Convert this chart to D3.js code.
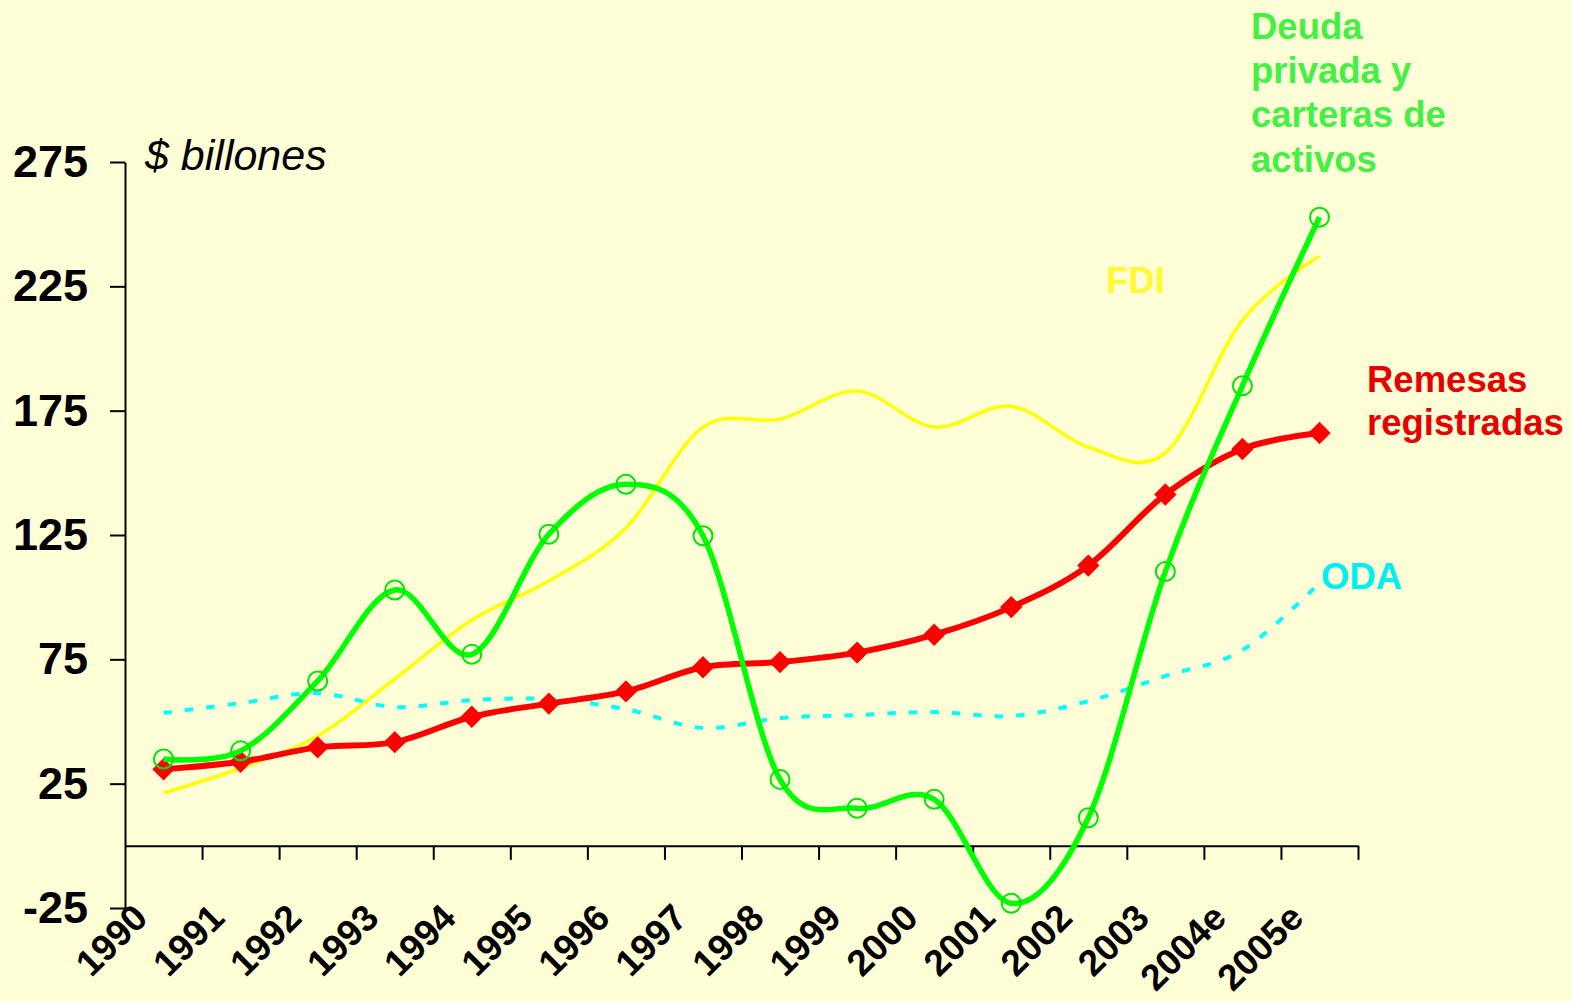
<!DOCTYPE html>
<html>
<head>
<meta charset="utf-8">
<script src="https://cdn.jsdelivr.net/npm/d3@7"></script>
<style>
html, body { margin: 0; padding: 0; background: #FFFFD7; }
svg { display: block; font-family: "Liberation Sans", Arial, sans-serif; }
</style>
</head>
<body>
<div id="chart"></div>
<script>
// categorias (anos) y series, en $ billones
var years = ["1990", "1991", "1992", "1993", "1994", "1995", "1996", "1997",
	"1998", "1999", "2000", "2001", "2002", "2003", "2004e", "2005e"];
var deuda = [34.9, 38.2, 66.3, 102.9, 77, 125.3, 145.4, 124.7, 26.7, 15.1, 18.7, -23.1, 11.3, 110.3, 185, 252.8];
var fdi = [21.2, 31.3, 44.2, 67.1, 90.8, 106.5, 127.8, 168.4, 171.6, 182.9, 168.4, 176.8, 160.4, 158, 211.4, 237.2];
var remesas = [30.8, 33.8, 39.6, 41.7, 51.9, 57.2, 62.1, 71.8, 73.9, 77.7, 84.9, 96, 112.7, 141.3, 159.6, 166];
var oda = [53.4, 57.4, 61.4, 55.8, 58.6, 59, 55, 47.4, 51.4, 52.6, 53.8, 52.2, 58.2, 68.3, 78.7, 105.7];
var yTicks = [-25, 25, 75, 125, 175, 225, 275];

var width = 1572, height = 1001;
var svg = d3.select("#chart")
	.append("svg")
	.attr("width", width)
	.attr("height", height);

var x = d3.scaleBand()
	.domain(years)
	.range([125, 1358])
	.padding(0);
var xEdge = d3.scaleLinear()
	.domain([0, years.length])
	.range([125, 1358]);
var y = d3.scaleLinear()
	.domain([-25, 275])
	.range([908, 162]);
var cx = function(i) { return x(years[i]) + x.bandwidth() / 2; };

// eje y
var yAxis = svg.append("g")
	.attr("transform", "translate(125,0)")
	.call(d3.axisLeft(y)
		.tickValues(yTicks)
		.tickFormat(function(d) { return String(d); })
		.tickSize(15)
		.tickSizeOuter(0)
		.tickPadding(22));
yAxis.selectAll("path, line").attr("stroke", "#000").attr("stroke-width", 2);
yAxis.selectAll("text")
	.attr("fill", "#000")
	.style("font-size", "45px")
	.style("font-weight", "bold")
	.style("font-family", "'Liberation Sans', Arial, sans-serif");

// eje x en cero, ticks entre categorias
var xAxis = svg.append("g")
	.attr("transform", "translate(0," + y(0) + ")")
	.call(d3.axisBottom(xEdge)
		.tickValues(d3.range(1, years.length + 1))
		.tickFormat("")
		.tickSize(14)
		.tickSizeOuter(0));
xAxis.selectAll("path, line").attr("stroke", "#000").attr("stroke-width", 2);

svg.append("g")
	.selectAll("text")
	.data(years)
	.enter()
	.append("text")
	.attr("transform", function(d) {
		return "translate(" + (x(d) + x.bandwidth() / 2 - 14) + ",920) rotate(-45)";
	})
	.attr("text-anchor", "end")
	.style("font-size", "37px")
	.style("font-weight", "bold")
	.attr("fill", "#000")
	.text(function(d) { return d; });

svg.append("text")
	.attr("x", 145)
	.attr("y", 170)
	.style("font-size", "43px")
	.style("font-style", "italic")
	.attr("fill", "#000")
	.text("$ billones");

// lineas
var line = d3.line()
	.x(function(d, i) { return cx(i); })
	.y(function(d) { return y(d); })
	.curve(d3.curveCardinal.tension(0));

svg.append("path")
	.datum(oda)
	.attr("d", line)
	.attr("fill", "none")
	.attr("stroke", "#00FFFF")
	.attr("stroke-width", 4)
	.attr("stroke-dasharray", "8.5,13");

svg.append("path")
	.datum(fdi)
	.attr("d", line)
	.attr("fill", "none")
	.attr("stroke", "#FFFF00")
	.attr("stroke-width", 3.5);

svg.append("path")
	.datum(remesas)
	.attr("d", line)
	.attr("fill", "none")
	.attr("stroke", "#FF0000")
	.attr("stroke-width", 6);

svg.append("g")
	.selectAll("path")
	.data(remesas)
	.enter()
	.append("path")
	.attr("d", d3.symbol().type(d3.symbolSquare).size(250))
	.attr("transform", function(d, i) { return "translate(" + cx(i) + "," + y(d) + ") rotate(45)"; })
	.attr("fill", "#FF0000");

svg.append("path")
	.datum(deuda)
	.attr("d", line)
	.attr("fill", "none")
	.attr("stroke", "#00FF00")
	.attr("stroke-width", 5.5);

svg.append("g")
	.selectAll("circle")
	.data(deuda)
	.enter()
	.append("circle")
	.attr("cx", function(d, i) { return cx(i); })
	.attr("cy", function(d) { return y(d); })
	.attr("r", 9.5)
	.attr("fill", "none")
	.attr("stroke", "#00E600")
	.attr("stroke-width", 2);

// etiquetas de series
var labels = svg.append("g")
	.style("font-size", "36.5px")
	.style("font-weight", "bold");

var deudaLbl = labels.append("text").attr("fill", "#44F044");
["Deuda", "privada y", "carteras de", "activos"].forEach(function(t, i) {
	deudaLbl.append("tspan").attr("x", 1251).attr("y", 39 + i * 44.2).text(t);
});

labels.append("text")
	.attr("x", 1106).attr("y", 293)
	.attr("fill", "#FFF833")
	.text("FDI");

var remLbl = labels.append("text").attr("fill", "#E80000");
["Remesas", "registradas"].forEach(function(t, i) {
	remLbl.append("tspan").attr("x", 1367).attr("y", 392 + i * 43).text(t);
});

labels.append("text")
	.attr("x", 1321).attr("y", 589)
	.attr("fill", "#00F0F0")
	.text("ODA");
</script>
</body>
</html>
